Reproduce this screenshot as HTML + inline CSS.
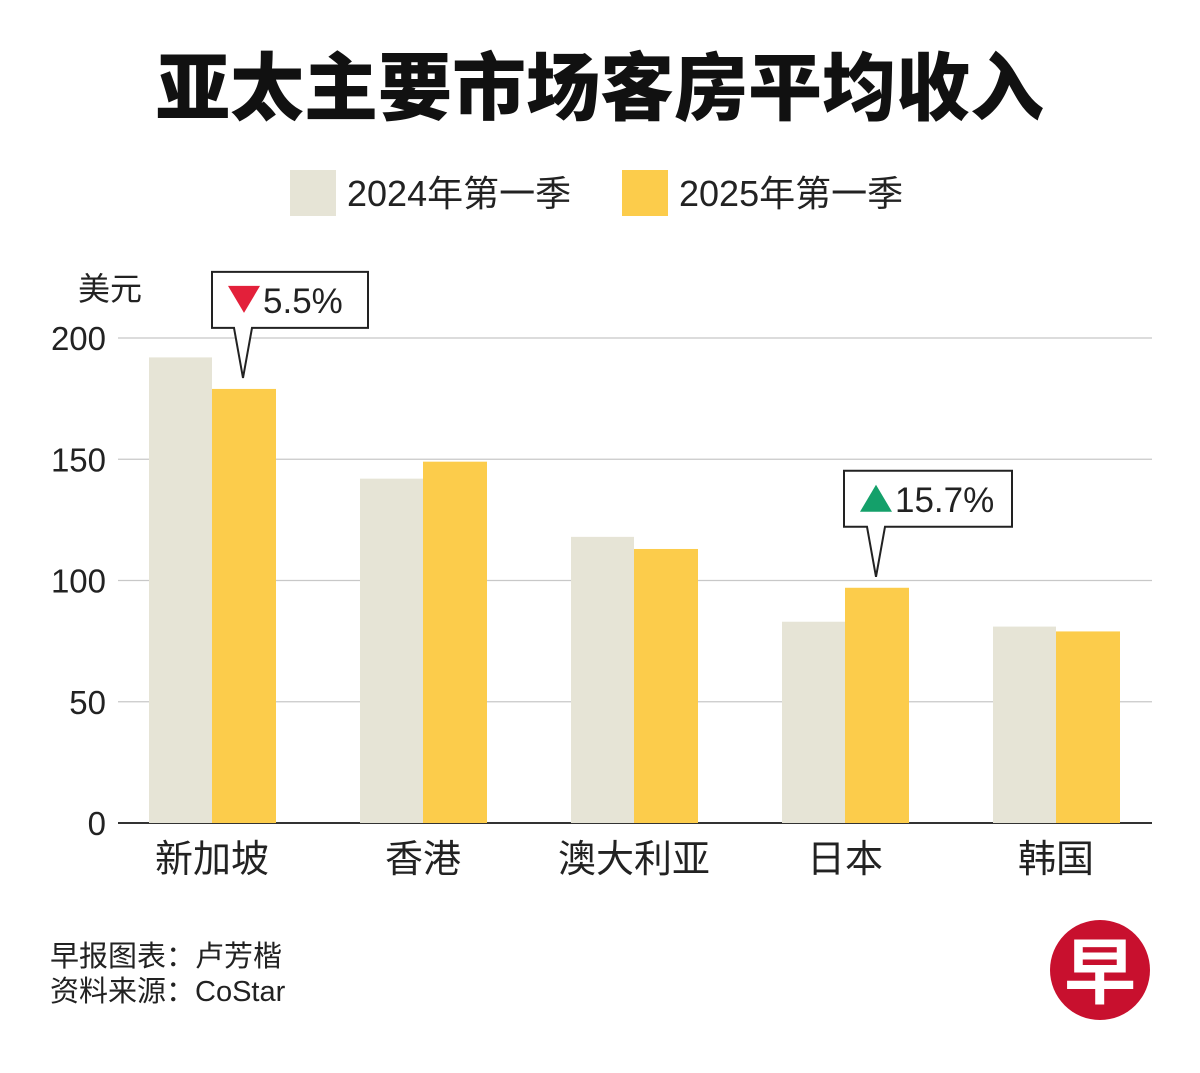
<!DOCTYPE html>
<html><head><meta charset="utf-8">
<style>
html,body{margin:0;padding:0;background:#fff;}
body{width:1200px;height:1068px;overflow:hidden;font-family:"Liberation Sans","Noto Sans CJK SC",sans-serif;}
svg text{font-family:"Liberation Sans","Noto Sans CJK SC",sans-serif;}
</style></head>
<body>
<svg id="chart" width="1200" height="1068" viewBox="0 0 1200 1068">
  <text x="600" y="114" text-anchor="middle" font-size="74" font-weight="900" fill="#111">亚太主要市场客房平均收入</text>
  <g>
    <rect x="290" y="170" width="46" height="46" fill="#e6e4d6"/>
    <text x="347" y="206" font-size="36" fill="#222">2024年第一季</text>
    <rect x="622" y="170" width="46" height="46" fill="#fccc4b"/>
    <text x="679" y="206" font-size="36" fill="#222">2025年第一季</text>
  </g>
  <text x="78" y="300" font-size="32" fill="#222">美元</text>
  <g id="grid"></g>
  <g id="bars"></g>
  <g id="xlabels"></g>
  <g id="callouts"></g>
  <text x="50" y="966" font-size="29" fill="#222">早报图表：卢芳楷</text>
  <text x="50" y="1001" font-size="29" fill="#222">资料来源：CoStar</text>
  <g>
    <circle cx="1100" cy="970" r="50" fill="#c8102e"/>
    <text x="1100" y="998" text-anchor="middle" font-size="72" font-weight="bold" fill="#fff" font-family="'Noto Serif CJK SC',serif">早</text>
  </g>
</svg>
<script>
const categories = ["新加坡","香港","澳大利亚","日本","韩国"];
const values2024 = [192,142,118,83,81];
const values2025 = [179,149,113,97,79];
const yTicks = [0,50,100,150,200];
const callouts = [{index:0, label:"5.5%", up:false},{index:3, label:"15.7%", up:true}];

const NS = "http://www.w3.org/2000/svg";
const y0 = 823, pxPerUnit = 485/200;
const yScale = v => y0 - v*pxPerUnit;
const groupStart = 149, groupStep = 211, barW = 63;
const xScale = i => groupStart + i*groupStep;

function mk(tag, attrs, parent){const e=document.createElementNS(NS,tag);for(const k in attrs)e.setAttribute(k,attrs[k]);parent.appendChild(e);return e;}

const grid=document.getElementById('grid');
yTicks.forEach(t=>{
  const y=yScale(t);
  const l=mk('line',{x1:118,x2:1152,y1:y,y2:y,stroke:t===0?'#333':'#c8c8c8','stroke-width':t===0?2:1.2},grid);
  
  
  const tx=mk('text',{x:106,y:y+12,'text-anchor':'end','font-size':33,fill:'#222'},grid);
  tx.textContent=t;
  
  
});

const bars=document.getElementById('bars');
const xl=document.getElementById('xlabels');
categories.forEach((c,i)=>{
  const x=xScale(i);
  const a=mk('rect',{x:x,y:yScale(values2024[i]),width:barW,height:y0-yScale(values2024[i]),fill:'#e6e4d6'},bars);
  
  
  const b=mk('rect',{x:x+barW,y:yScale(values2025[i]),width:barW+1,height:y0-yScale(values2025[i]),fill:'#fccc4b'},bars);
  
  
  const t=mk('text',{x:x+barW,y:872,'text-anchor':'middle','font-size':38,fill:'#222'},xl);
  t.textContent=c;
  
  
});

const cg=document.getElementById('callouts');
callouts.forEach(co=>{
  const tipX=xScale(co.index)+barW+31;
  const tipY=yScale(values2025[co.index])-11;
  const boxW=co.up?168:156, boxH=56;
  const boxX=tipX-(co.up?32:31), boxY=tipY-106;
  const g=mk('g',{},cg);
  
  
  const bx=boxY+boxH;
  mk('path',{d:`M${boxX} ${boxY}H${boxX+boxW}V${bx}H${tipX+9}L${tipX} ${tipY}L${tipX-9} ${bx}H${boxX}Z`,fill:'#fff',stroke:'#222','stroke-width':2},g);
  const ax=boxX+16, cy=boxY+boxH/2;
  if(co.up) mk('polygon',{points:`${ax},${cy+13} ${ax+32},${cy+13} ${ax+16},${cy-14}`,fill:'#14a06a'},g);
  else mk('polygon',{points:`${ax},${cy-14} ${ax+32},${cy-14} ${ax+16},${cy+13}`,fill:'#e3203a'},g);
  const t=mk('text',{x:ax+35,y:cy+13,'font-size':35,fill:'#222'},g);
  t.textContent=co.label;
});
</script>
</body></html>
